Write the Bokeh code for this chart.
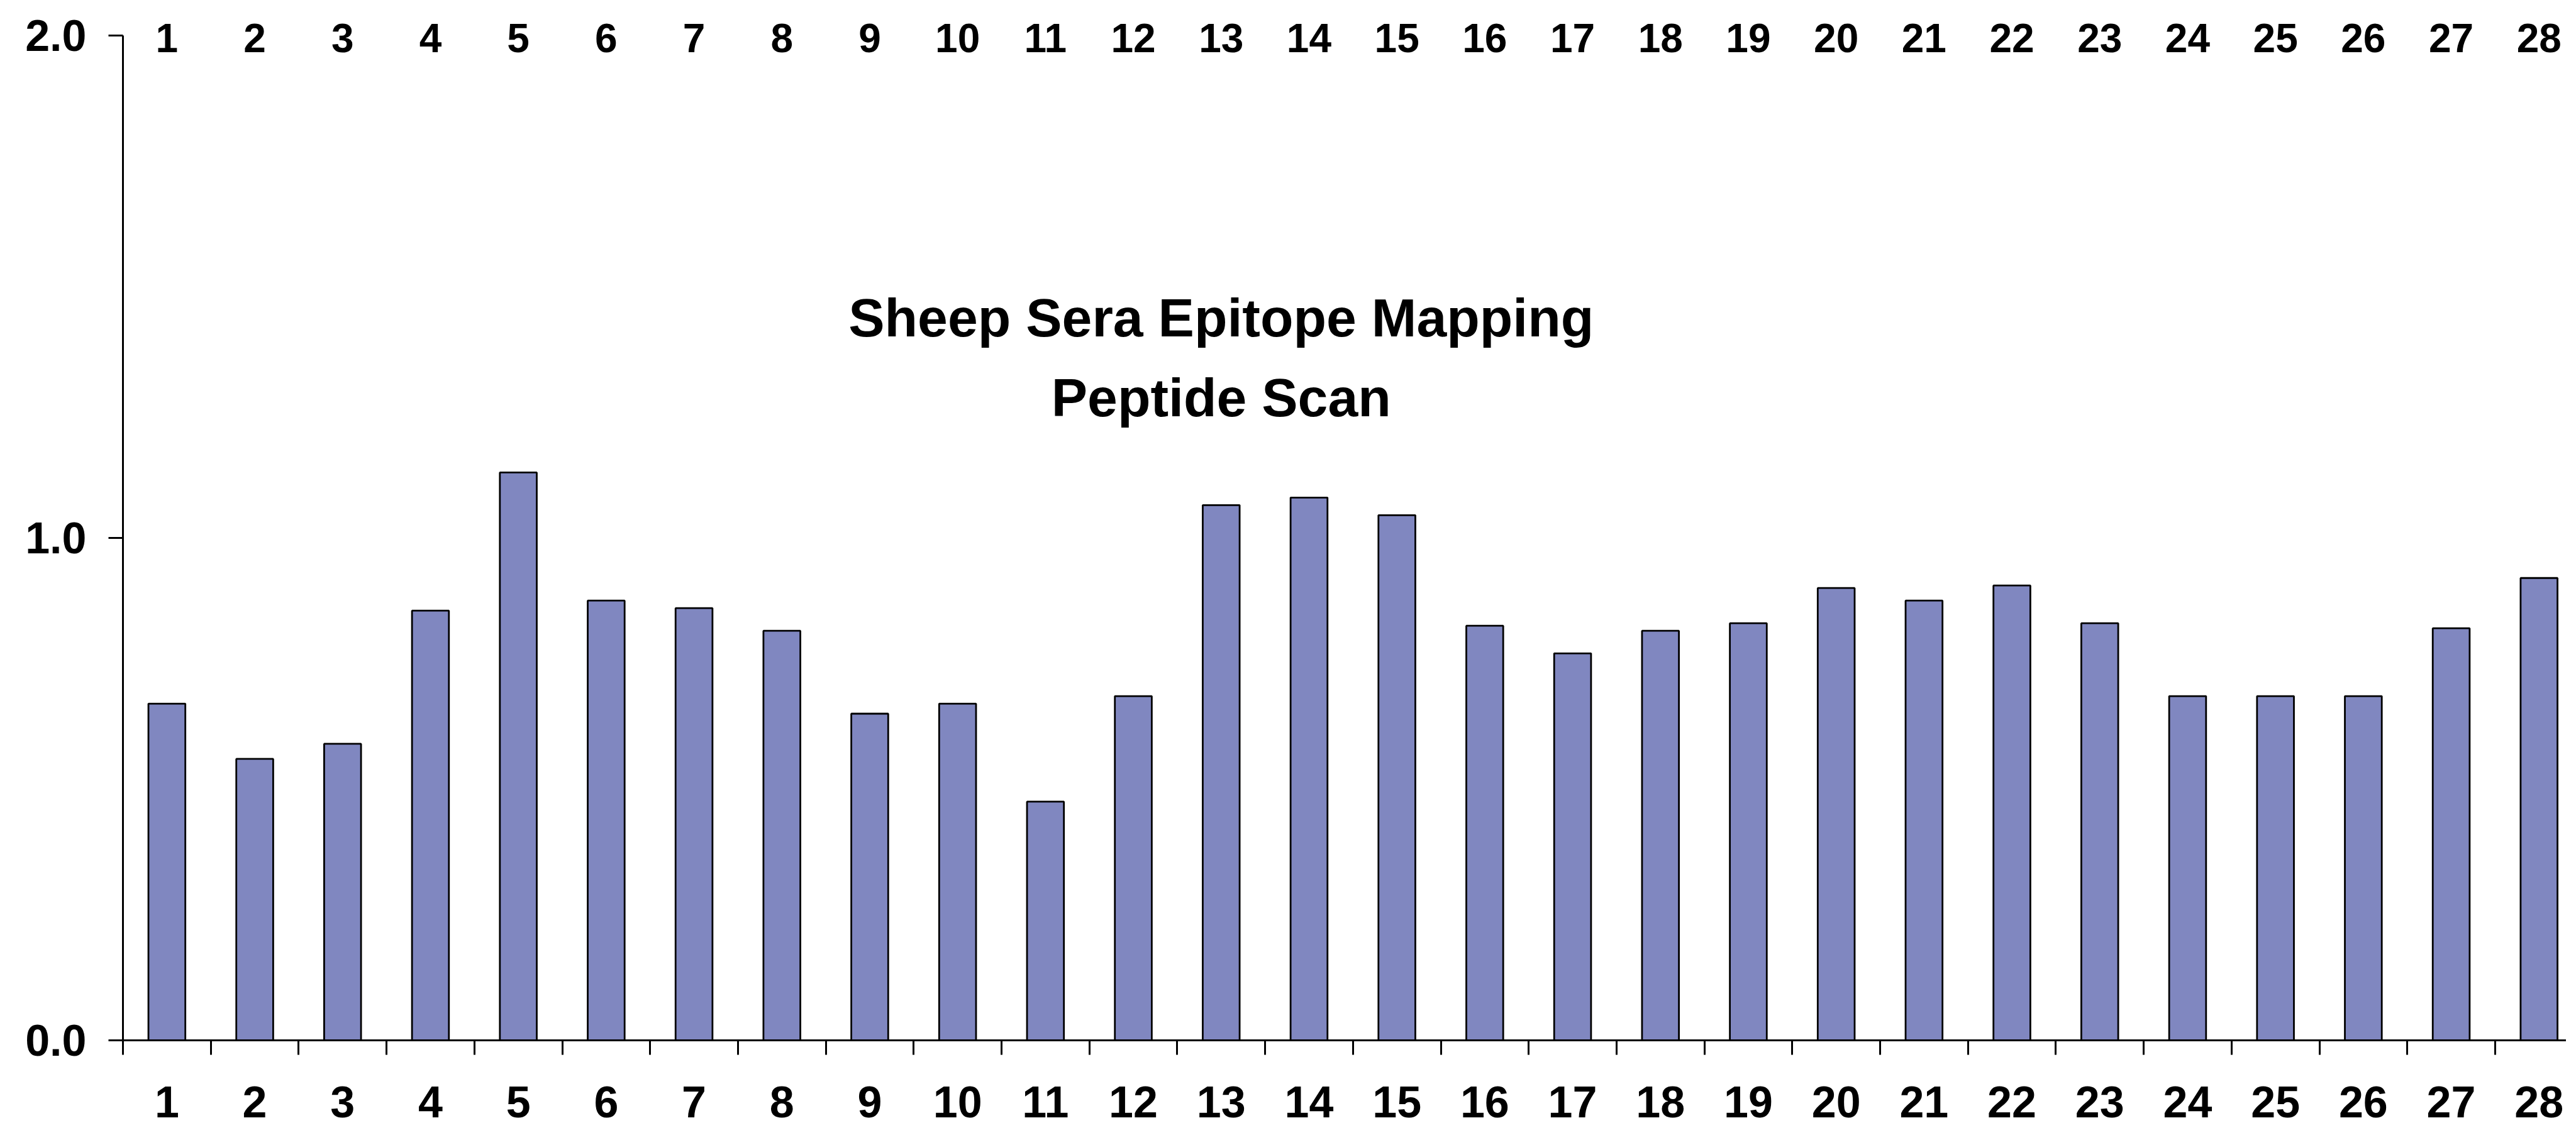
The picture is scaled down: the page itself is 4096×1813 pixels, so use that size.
from bokeh.plotting import figure
from bokeh.models import Range1d, FixedTicker, Label, ColumnDataSource
from bokeh.embed import file_html
from bokeh.resources import INLINE
from bokeh.core.properties import value

# ---- data ----
peptides = [str(i) for i in range(1, 29)]
signal = [0.67, 0.56, 0.59, 0.855, 1.13, 0.875, 0.86, 0.815, 0.65, 0.67,
          0.475, 0.685, 1.065, 1.08, 1.045, 0.825, 0.77, 0.815, 0.83, 0.90,
          0.875, 0.905, 0.83, 0.685, 0.685, 0.685, 0.82, 0.92]
y_ticks = [0.0, 1.0, 2.0]
y_tick_labels = ["0.0", "1.0", "2.0"]
title_lines = ["Sheep Sera Epitope Mapping", "Peptide Scan"]

# ---- layout ----
W, H = 4080, 1797
LEFT = 195
BOTTOM = 143
PX_PER_CAT = 139.7
PX_PER_UNIT = 799.2
FONT = "Liberation Sans"
TICK_FS = "70px"
TOP_FS = "64px"

frame_w = W - LEFT
frame_h = H - BOTTOM
x_start = 0.5
x_end = x_start + frame_w / PX_PER_CAT
y_end = frame_h / PX_PER_UNIT

x_pos = list(range(1, len(peptides) + 1))
boundaries = [k + 0.5 for k in range(len(peptides))]

src = ColumnDataSource(dict(x=x_pos, top=signal, label=peptides))

p = figure(width=W, height=H, output_backend="svg", toolbar_location=None,
           x_range=Range1d(x_start, x_end), y_range=Range1d(0, y_end),
           min_border_left=LEFT, min_border_bottom=BOTTOM,
           min_border_top=0, min_border_right=0)
p.outline_line_color = None
p.xgrid.visible = False
p.ygrid.visible = False
p.background_fill_color = "white"
p.border_fill_color = "white"

p.vbar(x="x", top="top", bottom=0, width=0.42, source=src,
       fill_color="#8087C0", line_color="black", line_width=2.8)

# top labels (axis labels of the chart above), kept fully inside the picture
top_y = (frame_h - 60) / PX_PER_UNIT
p.text(x="x", y=top_y, text="label", source=src,
       text_align="center", text_baseline="alphabetic",
       text_font=value(FONT), text_font_size=TOP_FS,
       text_font_style="bold", text_color="black")

# x axis
xa = p.xaxis[0]
xa.ticker = FixedTicker(ticks=x_pos, minor_ticks=boundaries)
xa.major_label_overrides = {x: lab for x, lab in zip(x_pos, peptides)}
xa.major_tick_line_color = None
xa.major_tick_out = 0
xa.major_tick_in = 0
xa.minor_tick_line_color = "black"
xa.minor_tick_line_width = 3
xa.minor_tick_out = 23
xa.minor_tick_in = 0
xa.axis_line_color = "black"
xa.axis_line_width = 3
xa.major_label_standoff = 50
xa.major_label_text_font = FONT
xa.major_label_text_font_size = TICK_FS
xa.major_label_text_font_style = "bold"
xa.major_label_text_color = "black"

# y axis
ya = p.yaxis[0]
ya.ticker = FixedTicker(ticks=y_ticks)
ya.major_label_overrides = {t: s for t, s in zip(y_ticks, y_tick_labels)}
ya.bounds = (y_ticks[0], y_ticks[-1])
ya.major_tick_out = 23
ya.major_tick_in = 0
ya.major_tick_line_width = 3
ya.major_tick_line_color = "black"
ya.minor_tick_line_color = None
ya.axis_line_color = "black"
ya.axis_line_width = 3
ya.major_label_standoff = 35
ya.major_label_text_font = FONT
ya.major_label_text_font_size = TICK_FS
ya.major_label_text_font_style = "bold"
ya.major_label_text_color = "black"

# title inside the plot
title_y = [(frame_h - 504) / PX_PER_UNIT, (frame_h - 631) / PX_PER_UNIT]
for line, ty in zip(title_lines, title_y):
    p.add_layout(Label(x=13, y=ty, text=line, text_align="center",
                       text_baseline="alphabetic", text_font=FONT,
                       text_font_size="86px", text_font_style="bold",
                       text_color="black"))

open("out.html", "w").write(file_html(p, INLINE))
